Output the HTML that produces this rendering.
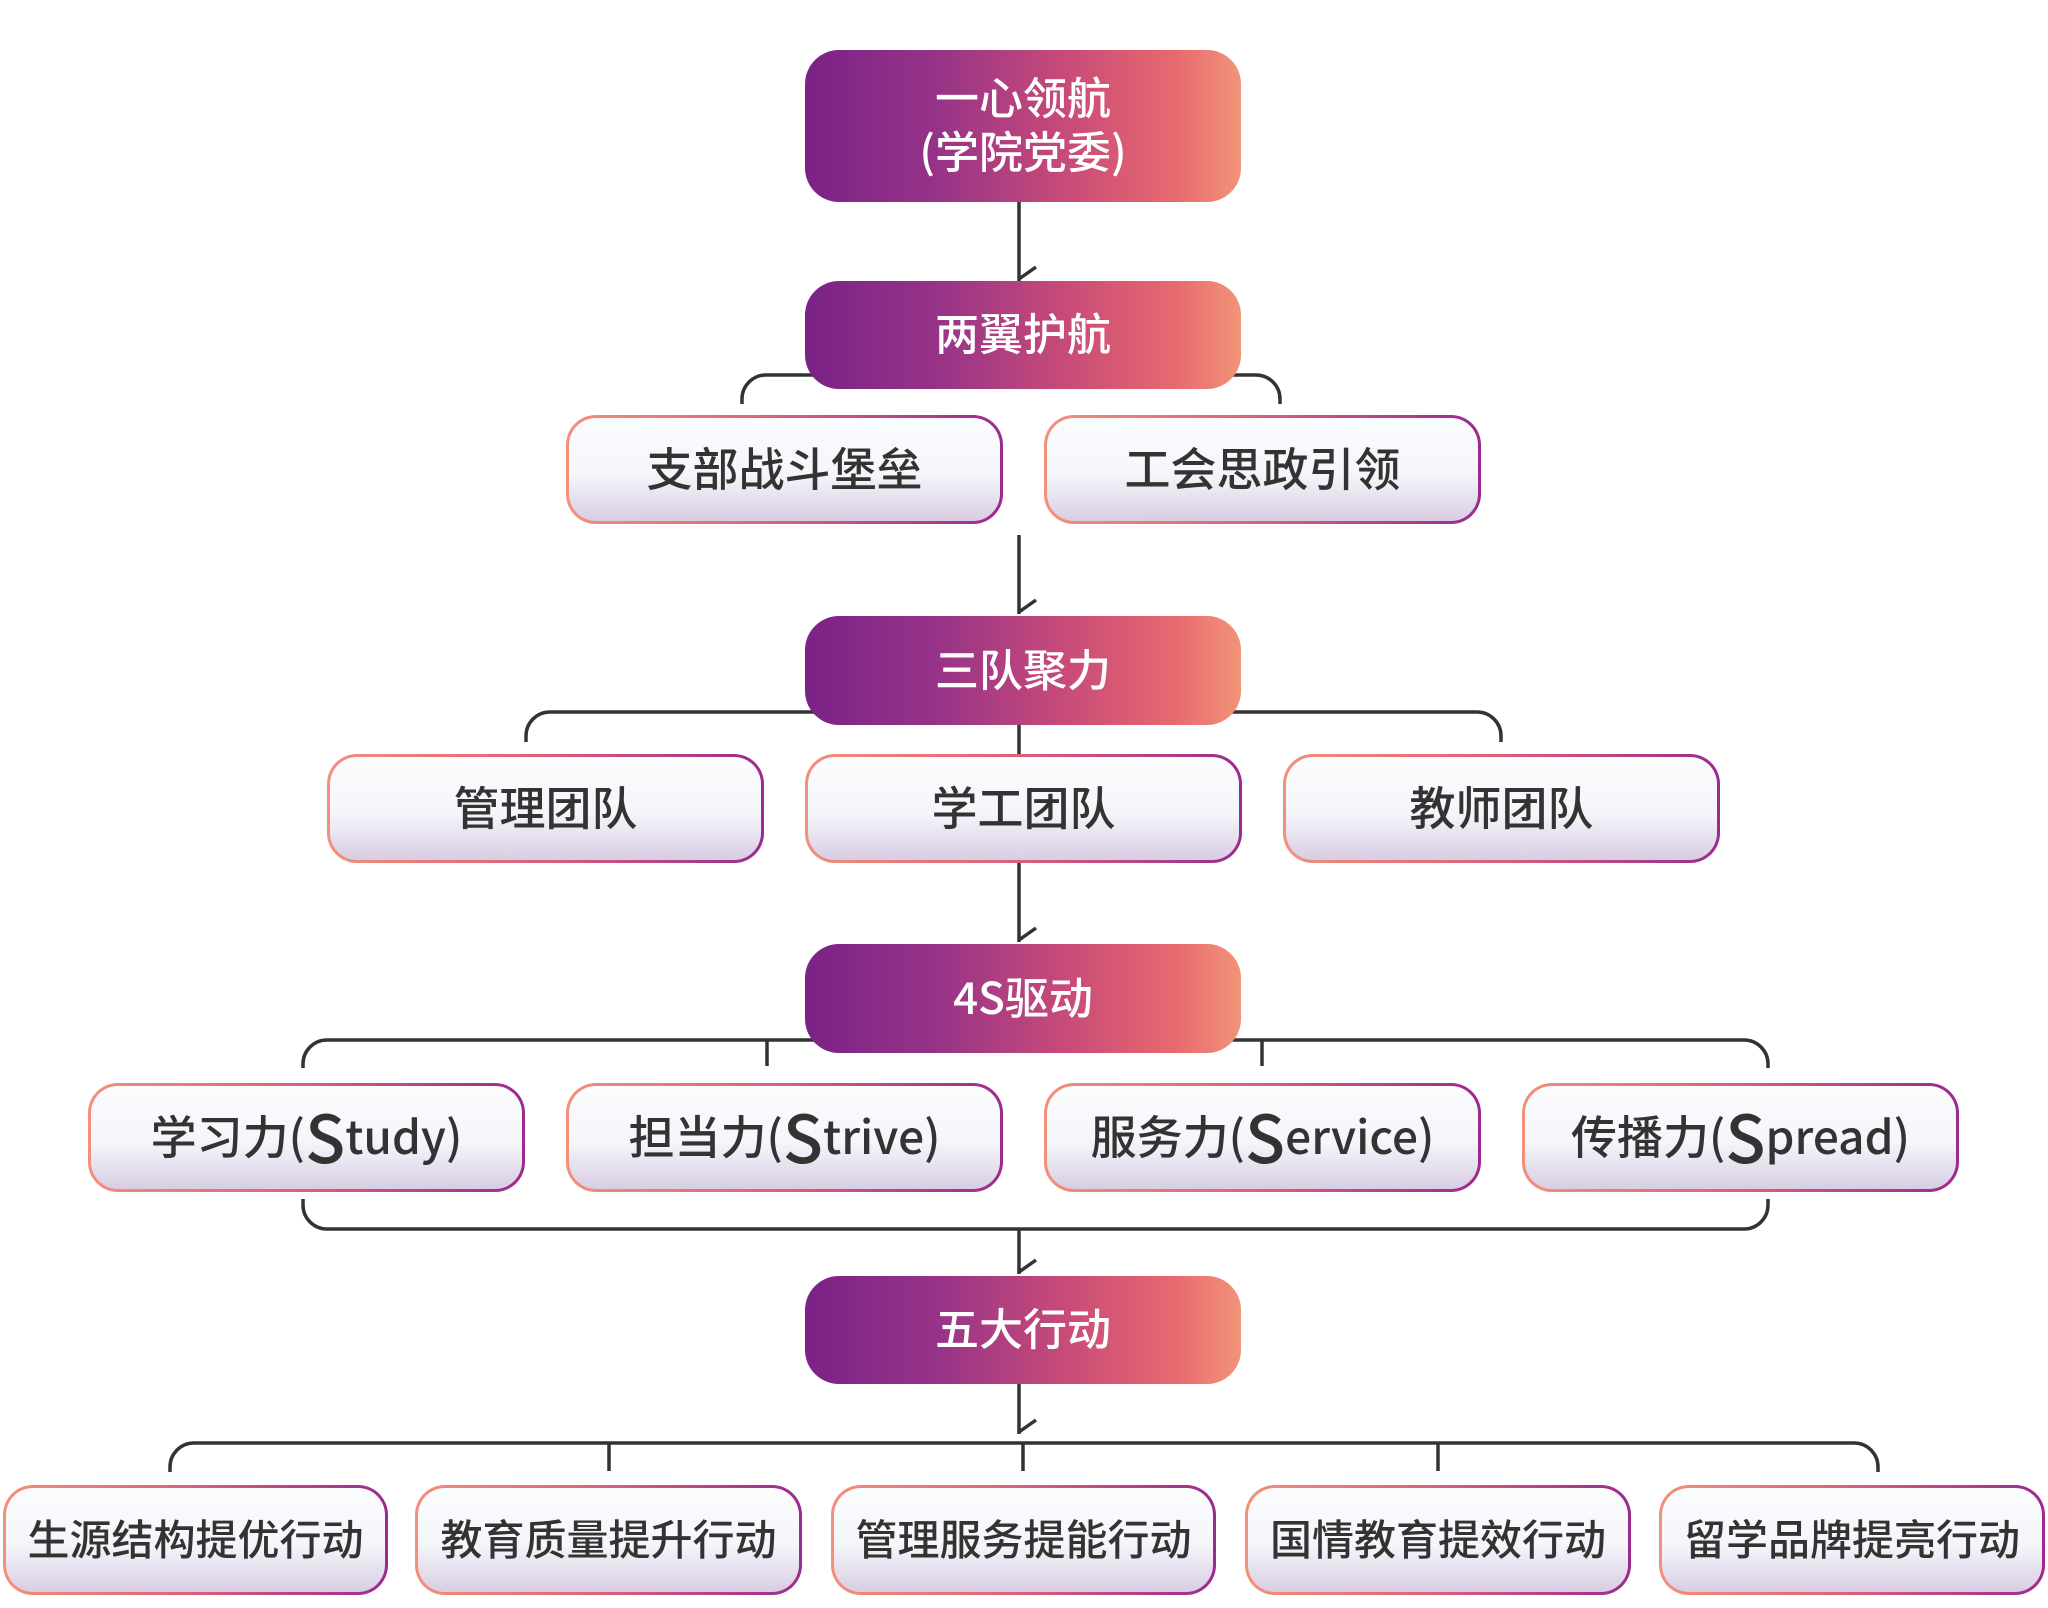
<!DOCTYPE html>
<html><head><meta charset="utf-8"><style>
body{margin:0;width:2048px;height:1608px;background:#fff;position:relative;overflow:hidden;font-family:"Noto Sans CJK SC","Liberation Sans",sans-serif}
.h{position:absolute;left:805px;width:436px;border-radius:34px;background:linear-gradient(90deg,#7b2287 0%,#963388 30%,#c84b78 60%,#e8696f 85%,#f19479 100%);color:#fff;display:flex;align-items:center;justify-content:center;text-align:center;font-size:44px;line-height:54px;font-weight:500;z-index:2;box-sizing:border-box;padding-bottom:8px}
.c{position:absolute;height:103px;border:3px solid transparent;border-radius:30px;background:linear-gradient(180deg,#fbfcfd 0%,#f4f6fa 55%,#d8cde3 100%) padding-box,linear-gradient(90deg,#f3907a,#d8607a 50%,#9b2a8f) border-box;color:#333;display:flex;align-items:center;justify-content:center;font-size:46px;font-weight:500;z-index:2;box-sizing:border-box;padding-bottom:6px}
.c big{font-size:66px;line-height:50px}
svg{position:absolute;left:0;top:0;z-index:1}
</style></head><body>
<svg width="2048" height="1608" fill="none" stroke="#333" stroke-width="3.5">
<path d="M1019 202V281M1019 279l17-12"/>
<path d="M742 404v-5a24 24 0 0 1 24-24H1256a24 24 0 0 1 24 24v5"/>
<path d="M1019 535V614M1019 612l17-12"/>
<path d="M526 742v-6a24 24 0 0 1 24-24H1477a24 24 0 0 1 24 24v6M1019 712v42"/>
<path d="M1019 863V942M1019 940l17-12"/>
<path d="M303 1068v-4a24 24 0 0 1 24-24H1744a24 24 0 0 1 24 24v4M767 1040v26M1262 1040v26"/>
<path d="M303 1199v6a24 24 0 0 0 24 24H1744a24 24 0 0 0 24-24v-6M1019 1229v45M1019 1272l17-12"/>
<path d="M1019 1384v50M1019 1432l17-12"/>
<path d="M170 1472v-5a24 24 0 0 1 24-24H1854a24 24 0 0 1 24 24v5M609 1443v28M1023 1443v28M1438 1443v28"/>
</svg>
<div class="h" style="top:50px;height:152px">一心领航<br>(学院党委)</div>
<div class="h" style="top:281px;height:108px">两翼护航</div>
<div class="h" style="top:616px;height:109px">三队聚力</div>
<div class="h" style="top:944px;height:109px">4S驱动</div>
<div class="h" style="top:1276px;height:108px">五大行动</div>

<div class="c" style="left:566px;top:415px;width:437px;height:109px">支部战斗堡垒</div>
<div class="c" style="left:1044px;top:415px;width:437px;height:109px">工会思政引领</div>

<div class="c" style="left:327px;top:754px;width:437px;height:109px">管理团队</div>
<div class="c" style="left:805px;top:754px;width:437px;height:109px">学工团队</div>
<div class="c" style="left:1283px;top:754px;width:437px;height:109px">教师团队</div>

<div class="c" style="left:88px;top:1083px;width:437px;height:109px">学习力(<big>S</big>tudy)</div>
<div class="c" style="left:566px;top:1083px;width:437px;height:109px">担当力(<big>S</big>trive)</div>
<div class="c" style="left:1044px;top:1083px;width:437px;height:109px">服务力(<big>S</big>ervice)</div>
<div class="c" style="left:1522px;top:1083px;width:437px;height:109px">传播力(<big>S</big>pread)</div>

<div class="c" style="left:3px;top:1485px;width:385px;height:110px;font-size:42px">生源结构提优行动</div>
<div class="c" style="left:415px;top:1485px;width:387px;height:110px;font-size:42px">教育质量提升行动</div>
<div class="c" style="left:831px;top:1485px;width:385px;height:110px;font-size:42px">管理服务提能行动</div>
<div class="c" style="left:1245px;top:1485px;width:386px;height:110px;font-size:42px">国情教育提效行动</div>
<div class="c" style="left:1659px;top:1485px;width:386px;height:110px;font-size:42px">留学品牌提亮行动</div>
</body></html>
